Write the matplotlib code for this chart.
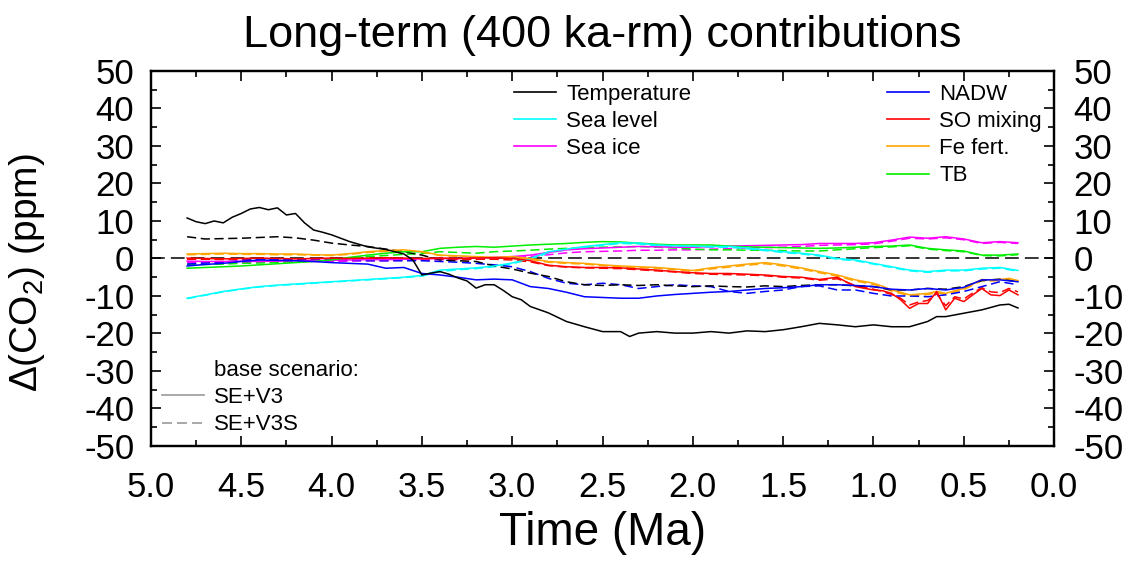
import matplotlib
matplotlib.use('Agg')
import matplotlib.pyplot as plt
from matplotlib.lines import Line2D
from matplotlib.ticker import MultipleLocator

plt.rcParams['font.family'] = ['Liberation Sans', 'DejaVu Sans']
plt.rcParams['mathtext.fontset'] = 'custom'
plt.rcParams['mathtext.rm'] = 'Liberation Sans'
plt.rcParams['mathtext.it'] = 'Liberation Sans:italic'
plt.rcParams['axes.unicode_minus'] = False

# time axis (Ma) shared by most series
time_ma = [4.8, 4.7, 4.6, 4.5, 4.4, 4.3, 4.2, 4.1, 4.0, 3.9, 3.8, 3.7, 3.6, 3.5, 3.4, 3.3,
           3.2, 3.1, 3.0, 2.9, 2.8, 2.7, 2.6, 2.5, 2.4, 2.3, 2.2, 2.1, 2.0, 1.9, 1.8, 1.7,
           1.6, 1.5, 1.4, 1.3, 1.2, 1.1, 1.0, 0.9, 0.8, 0.7, 0.6, 0.5, 0.4, 0.3, 0.2]

# finer time axis for the temperature (SE+V3) curve
time_temp = [4.8, 4.75, 4.7, 4.65, 4.6, 4.55, 4.5, 4.45, 4.4, 4.35, 4.3, 4.25, 4.2, 4.15, 4.1,
             4.05, 4.0, 3.9, 3.8, 3.7, 3.6, 3.55, 3.5, 3.45, 3.4, 3.35, 3.3, 3.25, 3.2, 3.15,
             3.1, 3.05, 3.0, 2.95, 2.9, 2.8, 2.7, 2.6, 2.5, 2.4, 2.35, 2.3, 2.2, 2.1, 2.0,
             1.9, 1.8, 1.7, 1.6, 1.5, 1.4, 1.3, 1.2, 1.1, 1.0, 0.9, 0.8, 0.7, 0.65, 0.6,
             0.5, 0.4, 0.3, 0.25, 0.2]

# finer time axis for SO mixing / Fe fert.
time_so = [4.8, 4.7, 4.6, 4.5, 4.4, 4.3, 4.2, 4.1, 4.0, 3.9, 3.8, 3.7, 3.6, 3.5, 3.4, 3.3,
           3.2, 3.1, 3.0, 2.9, 2.8, 2.7, 2.6, 2.5, 2.4, 2.3, 2.2, 2.1, 2.0, 1.9, 1.8, 1.7,
           1.6, 1.5, 1.4, 1.3, 1.2, 1.1, 1.0, 0.95, 0.9, 0.85, 0.8, 0.75, 0.7, 0.65, 0.6,
           0.55, 0.5, 0.45, 0.4, 0.35, 0.3, 0.25, 0.2]

temp_v3 = [10.8, 9.8, 9.3, 10.0, 9.5, 11.0, 12.0, 13.2, 13.6, 13.0, 13.5, 11.6, 12.0, 9.5, 7.6,
           7.0, 6.3, 4.5, 3.1, 2.4, 1.2, -0.4, -4.4, -3.9, -3.5, -4.2, -5.2, -6.0, -7.9, -7.0,
           -7.0, -8.5, -10.2, -11.0, -12.8, -14.5, -16.8, -18.2, -19.5, -19.5, -20.8, -19.9, -19.5, -19.9, -19.9,
           -19.5, -19.9, -19.3, -19.5, -19.0, -18.2, -17.3, -17.7, -18.2, -17.7, -18.2, -18.2, -16.8, -15.5, -15.5,
           -14.6, -13.7, -12.4, -12.2, -13.2]
temp_v3s = [5.8, 5.2, 5.3, 5.4, 5.6, 5.8, 5.5, 4.9, 4.1, 3.6, 3.2, 2.5, 1.8, 0.9, -0.4, -0.6,
            -0.8, -2.0, -2.8, -3.9, -4.8, -6.2, -7.0, -7.2, -7.0, -7.2, -7.0, -7.3, -7.5, -7.3, -7.5, -7.6,
            -7.3, -7.5, -7.2, -7.0, -7.0, -7.3, -7.5, -8.4, -8.4, -8.0, -8.2, -7.5, -5.9, -5.5, -6.2]

sealevel_v3 = [-10.6, -9.7, -8.8, -8.1, -7.5, -7.1, -6.8, -6.5, -6.2, -5.9, -5.6, -5.3, -5.0, -4.5, -3.1, -2.8,
               -2.5, -2.0, -1.2, 0.0, 1.8, 2.5, 3.2, 3.7, 4.2, 4.1, 3.6, 3.4, 3.3, 3.2, 3.2, 2.8,
               2.3, 1.8, 1.4, 0.9, 0.0, -0.4, -1.3, -2.2, -3.1, -3.5, -3.1, -3.1, -2.6, -2.4, -3.2]
sealevel_v3s = [-10.7, -9.8, -8.9, -8.2, -7.6, -7.2, -6.9, -6.6, -6.3, -6.0, -5.7, -5.4, -5.1, -4.7, -3.5, -3.0,
                -2.7, -2.2, -1.4, -0.2, 1.5, 2.3, 3.0, 3.5, 4.0, 3.9, 3.4, 3.2, 3.1, 3.0, 3.0, 2.6,
                2.1, 1.6, 1.2, 0.7, -0.2, -0.6, -1.5, -2.4, -3.3, -3.7, -3.3, -3.3, -2.8, -2.6, -3.4]

seaice_v3 = [-0.7, -0.8, -0.8, -0.7, -0.8, -0.7, -0.6, -0.5, -0.5, -0.4, -0.3, -0.3, -0.2, -0.1, 0.0, 0.0,
             0.1, 0.3, 0.5, 0.9, 1.6, 2.3, 2.6, 2.8, 3.0, 3.2, 3.1, 3.0, 3.0, 3.2, 3.3, 3.4,
             3.5, 3.6, 3.7, 4.0, 4.0, 4.0, 4.2, 4.9, 5.7, 5.4, 5.8, 5.2, 4.2, 4.5, 4.2]
seaice_v3s = [-1.0, -1.1, -1.1, -1.0, -1.0, -0.9, -0.9, -0.8, -0.8, -0.7, -0.6, -0.6, -0.5, -0.4, -0.3, -0.2,
              -0.1, 0.0, 0.2, 0.5, 1.0, 1.5, 1.8, 1.9, 2.0, 2.2, 2.2, 2.3, 2.3, 2.5, 2.6, 2.8,
              2.9, 3.0, 3.2, 3.5, 3.6, 3.7, 3.9, 4.6, 5.4, 5.2, 5.5, 5.0, 4.0, 4.3, 4.0]

tb_v3 = [-2.6, -2.4, -2.2, -2.0, -1.7, -1.4, -1.1, -0.8, -0.4, 0.3, 0.9, 1.4, 1.8, 1.8, 2.7, 3.0,
         3.2, 3.0, 3.3, 3.6, 3.8, 4.0, 4.3, 4.5, 4.4, 4.1, 3.8, 3.6, 3.6, 3.6, 3.3, 3.1,
         3.0, 2.9, 2.8, 2.7, 2.8, 3.0, 3.2, 3.3, 3.6, 2.7, 2.3, 2.0, 0.9, 0.9, 1.2]
tb_v3s = [-1.5, -1.6, -1.5, -1.3, -1.2, -1.0, -0.8, -0.6, -0.3, 0.1, 0.5, 0.8, 1.1, 1.3, 1.8, 1.6,
          1.4, 1.8, 2.0, 2.2, 2.5, 2.7, 2.9, 3.0, 3.1, 3.2, 3.0, 2.8, 2.5, 2.3, 2.3, 2.2,
          2.2, 2.1, 2.0, 2.0, 2.3, 2.6, 2.9, 3.1, 3.4, 2.5, 2.1, 1.8, 0.8, 0.7, 1.0]

nadw_v3 = [-2.0, -1.6, -1.3, -0.8, -0.4, -0.5, -0.6, -0.8, -1.1, -1.3, -1.5, -2.6, -2.4, -4.0, -4.4, -5.0,
           -5.7, -5.5, -5.7, -7.5, -8.0, -9.0, -10.2, -10.4, -10.6, -10.6, -10.0, -9.6, -9.3, -9.0, -8.8, -8.4,
           -8.0, -7.8, -7.5, -7.0, -7.0, -7.2, -7.5, -8.2, -8.4, -8.0, -8.4, -7.7, -5.7, -5.7, -6.2]
nadw_v3s = [-1.5, -1.2, -1.0, -0.5, -0.3, -0.2, -0.3, -0.4, -0.5, -0.5, -0.6, -0.6, -0.6, -0.6, -0.8, -1.0,
            -1.3, -1.7, -2.2, -3.5, -5.3, -6.6, -7.0, -6.6, -7.0, -8.0, -7.5, -7.0, -7.3, -7.5, -8.8, -9.3,
            -8.8, -8.4, -7.5, -7.3, -8.4, -8.4, -9.3, -10.0, -10.0, -10.2, -9.7, -8.8, -7.5, -6.2, -7.0]

so_v3 = [0.1, 0.0, -0.1, 0.0, 0.1, 0.0, -0.1, 0.0, 0.1, 0.0, 0.1, 0.2, 0.1, 0.0, 0.1, 0.0,
         0.1, 0.2, 0.0, -0.6, -1.8, -2.2, -2.4, -2.4, -2.5, -2.8, -3.1, -3.5, -3.8, -4.0, -4.0, -4.2,
         -4.4, -4.8, -5.0, -5.6, -5.0, -7.5, -8.4, -8.6, -9.3, -11.0, -13.3, -12.0, -12.0, -8.8, -13.7,
         -10.6, -11.5, -9.7, -8.0, -9.7, -9.9, -8.4, -9.7]
so_v3s = [-0.2, -0.2, -0.3, -0.2, -0.2, -0.2, -0.3, -0.2, -0.2, -0.3, -0.2, -0.1, -0.2, -0.3, -0.2, -0.3,
          -0.2, -0.2, -0.4, -0.9, -1.9, -2.3, -2.5, -2.6, -2.7, -3.0, -3.3, -3.6, -4.0, -4.2, -4.3, -4.4,
          -4.6, -5.0, -5.2, -5.8, -5.4, -7.2, -8.2, -8.8, -9.6, -10.6, -12.4, -11.6, -11.2, -9.4, -12.6,
          -10.2, -10.8, -9.2, -7.8, -8.9, -9.1, -8.0, -8.9]

fe_v3 = [1.2, 1.3, 1.4, 1.3, 1.3, 1.2, 1.2, 1.0, 0.9, 1.3, 1.8, 2.1, 2.3, 1.8, 0.9, 0.7,
         0.5, 0.3, 0.5, 0.0, -0.8, -1.1, -1.3, -1.7, -2.0, -2.2, -2.4, -2.8, -3.2, -2.5, -2.0, -1.5,
         -1.1, -1.7, -2.5, -3.5, -4.4, -5.7, -6.6, -7.4, -8.4, -9.0, -9.7, -9.5, -9.3, -8.8, -9.3,
         -8.6, -8.0, -6.8, -5.6, -5.7, -5.6, -5.3, -5.9]
fe_v3s = [1.0, 1.1, 1.2, 1.1, 1.1, 1.0, 1.0, 0.9, 0.8, 1.1, 1.6, 1.9, 2.1, 1.7, 0.8, 0.6,
          0.4, 0.2, 0.3, -0.2, -1.0, -1.3, -1.5, -1.9, -2.2, -2.4, -2.6, -3.0, -3.4, -2.8, -2.3, -1.8,
          -1.4, -2.0, -2.8, -3.8, -4.7, -6.0, -6.9, -7.7, -8.7, -9.3, -10.0, -9.8, -9.6, -9.1, -9.6,
          -8.9, -8.3, -7.1, -5.9, -6.0, -5.9, -5.6, -6.2]

labels_left = ['Temperature', 'Sea level', 'Sea ice']
colors_left = ['black', '#00ffff', '#ff00ff']
labels_right = ['NADW', 'SO mixing', 'Fe fert.', 'TB']
colors_right = ['#0000ff', '#ff0000', '#ffa500', '#00ee00']

fig = plt.figure(figsize=(11.31, 5.61), dpi=100)
ax = fig.add_axes([0.1335, 0.205, 0.7985, 0.6685])

lw = 1.1
dash = (0, (6, 3))

ax.axhline(0, color='black', lw=1.1, ls=(0, (9, 4)), zorder=1)

# dashed = SE+V3S, solid = SE+V3
ax.plot(time_ma, seaice_v3s, color=colors_left[2], lw=lw, ls=dash)
ax.plot(time_ma, tb_v3s, color=colors_right[3], lw=lw, ls=dash)
ax.plot(time_ma, sealevel_v3s, color=colors_left[1], lw=lw, ls=dash)
ax.plot(time_so, fe_v3s, color=colors_right[2], lw=lw, ls=dash)
ax.plot(time_so, so_v3s, color=colors_right[1], lw=lw, ls=dash)
ax.plot(time_ma, nadw_v3s, color=colors_right[0], lw=lw, ls=dash)
ax.plot(time_ma, temp_v3s, color='black', lw=lw, ls=dash)

ax.plot(time_ma, seaice_v3, color=colors_left[2], lw=lw)
ax.plot(time_ma, tb_v3, color=colors_right[3], lw=lw)
ax.plot(time_ma, sealevel_v3, color=colors_left[1], lw=lw)
ax.plot(time_so, fe_v3, color=colors_right[2], lw=lw)
ax.plot(time_so, so_v3, color=colors_right[1], lw=lw)
ax.plot(time_ma, nadw_v3, color=colors_right[0], lw=lw)
ax.plot(time_temp, temp_v3, color='black', lw=lw)

ax.set_xlim(5.0, 0.0)
ax.set_ylim(-50, 50)
ax.xaxis.set_major_locator(MultipleLocator(0.5))
ax.xaxis.set_minor_locator(MultipleLocator(0.25))
ax.xaxis.set_major_formatter(plt.FuncFormatter(lambda v, p: f'{v:.1f}'))

# right-hand axis only repeats the y ticks
ax2 = ax.twinx()
ax2.set_ylim(-50, 50)
for a in (ax, ax2):
    a.yaxis.set_major_locator(MultipleLocator(10))
    a.yaxis.set_minor_locator(MultipleLocator(5))
    a.tick_params(which='both', direction='in', labelsize=25, width=1.2)
    a.tick_params(which='major', length=7)
    a.tick_params(which='minor', length=4)
ax.tick_params(which='both', top=True, right=False)
ax.tick_params(axis='x', which='both', pad=18)
ax.tick_params(axis='y', which='both', pad=12)
ax2.tick_params(axis='y', which='both', pad=14)
for a in (ax, ax2):
    for s in a.spines.values():
        s.set_linewidth(1.6)

ax.set_title('Long-term (400 ka-rm) contributions', fontsize=32.5, pad=17)
ax.set_xlabel('Time (Ma)', fontsize=33, labelpad=5)
ax.set_ylabel(r'$\Delta$(CO$_2$) (ppm)', fontsize=28)
ax.yaxis.set_label_coords(-0.115, 0.462)

h_left = [Line2D([], [], color=c, lw=1.2) for c in colors_left]
h_right = [Line2D([], [], color=c, lw=1.2) for c in colors_right]
leg_kw = dict(frameon=False, fontsize=16, handlelength=1.9, handletextpad=0.45,
              labelspacing=0.28, borderaxespad=0, borderpad=0)
leg1 = ax2.legend(h_left, labels_left, loc='upper left', bbox_to_anchor=(0.402, 0.966), **leg_kw)
ax2.add_artist(leg1)
leg2 = ax2.legend(h_right, labels_right, loc='upper left', bbox_to_anchor=(0.815, 0.966), **leg_kw)
ax2.add_artist(leg2)

h_base = [Line2D([], [], color='none'),
          Line2D([], [], color='#999999', lw=1.2),
          Line2D([], [], color='#999999', lw=1.2, ls=dash)]
ax2.legend(h_base, ['base scenario:', 'SE+V3', 'SE+V3S'], loc='lower left',
           bbox_to_anchor=(0.012, 0.028), **leg_kw)

fig.savefig('out.png', dpi=100)
